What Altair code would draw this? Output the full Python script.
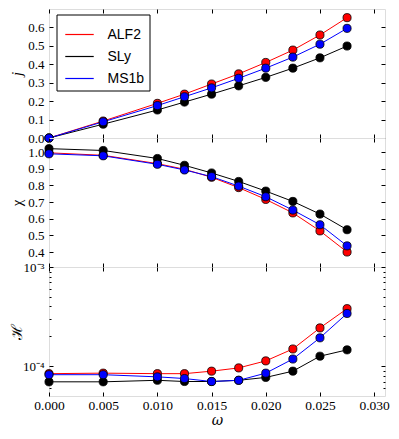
import altair as alt
import pandas as pd

# ---------------- data ----------------
omega = [0.0, 0.005, 0.010, 0.0125, 0.015, 0.0175, 0.020, 0.0225, 0.025, 0.0275]
series = ["ALF2", "SLy", "MS1b"]
colors = ["#ff0000", "#000000", "#0000ff"]

j_alf2 = [0.0, 0.092, 0.188, 0.238, 0.293, 0.348, 0.410, 0.477, 0.559, 0.653]
j_sly = [0.0, 0.075, 0.152, 0.195, 0.238, 0.283, 0.329, 0.379, 0.435, 0.499]
j_ms1b = [0.0, 0.088, 0.176, 0.224, 0.272, 0.324, 0.379, 0.439, 0.509, 0.595]

chi_alf2 = [0.996, 0.981, 0.931, 0.897, 0.849, 0.787, 0.716, 0.635, 0.527, 0.400]
chi_sly = [1.021, 1.010, 0.962, 0.921, 0.875, 0.824, 0.766, 0.704, 0.628, 0.534]
chi_ms1b = [0.990, 0.978, 0.927, 0.893, 0.853, 0.796, 0.732, 0.652, 0.564, 0.437]

h_alf2 = [8.4e-5, 8.5e-5, 8.4e-5, 8.4e-5, 8.9e-5, 9.6e-5, 1.13e-4, 1.49e-4, 2.43e-4, 3.8e-4]
h_sly = [6.95e-5, 6.95e-5, 7.2e-5, 7.0e-5, 7.0e-5, 7.2e-5, 7.7e-5, 8.9e-5, 1.26e-4, 1.46e-4]
h_ms1b = [8.2e-5, 8.2e-5, 7.8e-5, 7.5e-5, 7.0e-5, 7.2e-5, 8.5e-5, 1.18e-4, 1.93e-4, 3.4e-4]

x_ticks = [0.0, 0.005, 0.010, 0.015, 0.020, 0.025, 0.030]
j_ticks = [0.0, 0.1, 0.2, 0.3, 0.4, 0.5, 0.6]
chi_ticks = [0.4, 0.5, 0.6, 0.7, 0.8, 0.9, 1.0]
h_major = [1e-4, 1e-3]
h_minor = [6e-5, 7e-5, 8e-5, 9e-5, 2e-4, 3e-4, 4e-4, 5e-4, 6e-4, 7e-4, 8e-4, 9e-4]


def make_df(vals_by_series):
    rows = []
    for s, vals in zip(series, vals_by_series):
        for w, v in zip(omega, vals):
            rows.append({"omega": w, "v": v, "eos": s})
    return pd.DataFrame(rows)


W = 336
H = 129
XDOM = [0, 0.031]
SERIF = "Liberation Serif"
TICK_IN = {"expr": "-4"}


def panel(df, ydom, yticks, yfmt, ytitle, scale_type, show_x, with_legend,
          title_font="Liberation Serif", title_style="italic", label_expr=None,
          tick_size=TICK_IN):
    xscale = alt.Scale(domain=XDOM, nice=False, zero=False)
    yscale = alt.Scale(domain=ydom, type=scale_type, nice=False, zero=False)

    yaxis_kw = dict(values=yticks, tickSize=tick_size, domain=False, grid=False,
                    labelFont=SERIF, labelFontSize=13, labelPadding=9,
                    labelOverlap=False, labelFlush=False, tickColor="black",
                    labelColor="black", title=ytitle, titleFont=title_font,
                    titleFontSize=15, titleFontStyle=title_style,
                    titleFontWeight="normal", titleColor="black",
                    titleX=-33, titleY=H / 2, titleBaseline="middle",
                    minExtent=0)
    if label_expr is not None:
        yaxis_kw["labelExpr"] = label_expr
    else:
        yaxis_kw["format"] = yfmt

    xaxis_kw = dict(orient="bottom", values=x_ticks, format=".3f", labels=show_x,
                    tickSize=TICK_IN, domain=False, grid=False, labelFont=SERIF,
                    labelFontSize=13.5, labelPadding=6, labelFlush=False,
                    labelOverlap=False, tickColor="black", labelColor="black",
                    minExtent=0)
    if show_x:
        xaxis_kw.update(title="ω", titleFont="DejaVu Serif", titleFontSize=14,
                        titleFontStyle="italic", titleFontWeight="normal",
                        titleColor="black", titleBaseline="middle",
                        titleY=24, titleX=W / 2)
        x_enc = alt.X("omega:Q", scale=xscale, axis=alt.Axis(**xaxis_kw))
    else:
        x_enc = alt.X("omega:Q", scale=xscale, title=None, axis=alt.Axis(**xaxis_kw))

    if with_legend:
        legend = alt.Legend(orient="none", legendX=7.5, legendY=5.5, title=None,
                            symbolType="stroke", symbolSize=810,
                            symbolStrokeWidth=1.2, labelFont="Liberation Sans",
                            labelFontSize=14, labelColor="black", labelOffset=13,
                            padding=5, rowPadding=0, strokeColor="black",
                            fillColor="white", cornerRadius=0, symbolOffset=3)
    else:
        legend = None

    lines = alt.Chart(df).mark_line(strokeWidth=1).encode(
        x=x_enc,
        y=alt.Y("v:Q", scale=yscale, axis=alt.Axis(orient="left", **yaxis_kw)),
        color=alt.Color("eos:N", scale=alt.Scale(domain=series, range=colors),
                        legend=legend, sort=series),
    )

    points = alt.Chart(df).mark_point(filled=True, size=66, stroke="black",
                                      strokeWidth=0.8, opacity=1).encode(
        x=alt.X("omega:Q", scale=xscale, title=None,
                axis=alt.Axis(orient="top", values=x_ticks, labels=False,
                              tickSize=4, offset=-4, domain=False, grid=False,
                              tickColor="black", minExtent=0)),
        y=alt.Y("v:Q", scale=yscale, title=None,
                axis=alt.Axis(orient="right", values=yticks, tickSize=tick_size,
                              domain=False, grid=False, labels=False,
                              tickColor="black", minExtent=0)),
        fill=alt.Fill("eos:N", scale=alt.Scale(domain=series, range=colors),
                      legend=None),
    )

    return alt.layer(lines, points).resolve_axis(x="independent", y="independent").properties(
        width=W, height=H)


top = panel(make_df([j_alf2, j_sly, j_ms1b]), [0, 0.7], j_ticks, ".1f", "j",
            "linear", False, True)
mid = panel(make_df([chi_alf2, chi_sly, chi_ms1b]), [0.31, 1.085], chi_ticks, ".1f", "χ",
            "linear", False, False, title_style="normal")

major_test = "datum.value == 0.0001 || datum.value == 0.001"
bot = panel(make_df([h_alf2, h_sly, h_ms1b]), [5e-5, 1e-3], h_major + h_minor, None, "ℋ",
            "log", True, False, title_font="DejaVu Serif", title_style="normal",
            label_expr="datum.value == 0.001 ? '10⁻³' : (datum.value == 0.0001 ? '10⁻⁴' : '')",
            tick_size={"condition": {"test": major_test, "value": -4}, "value": -2})

chart = alt.vconcat(top, mid, bot, spacing=0, bounds="flush").resolve_legend(
    color="independent").properties(
    padding={"left": 0, "top": 0, "right": 0, "bottom": 0}
).configure_view(stroke="black", strokeWidth=1.2).configure(background="white")

chart.save("out.html", embed_options={"renderer": "svg", "actions": False})
